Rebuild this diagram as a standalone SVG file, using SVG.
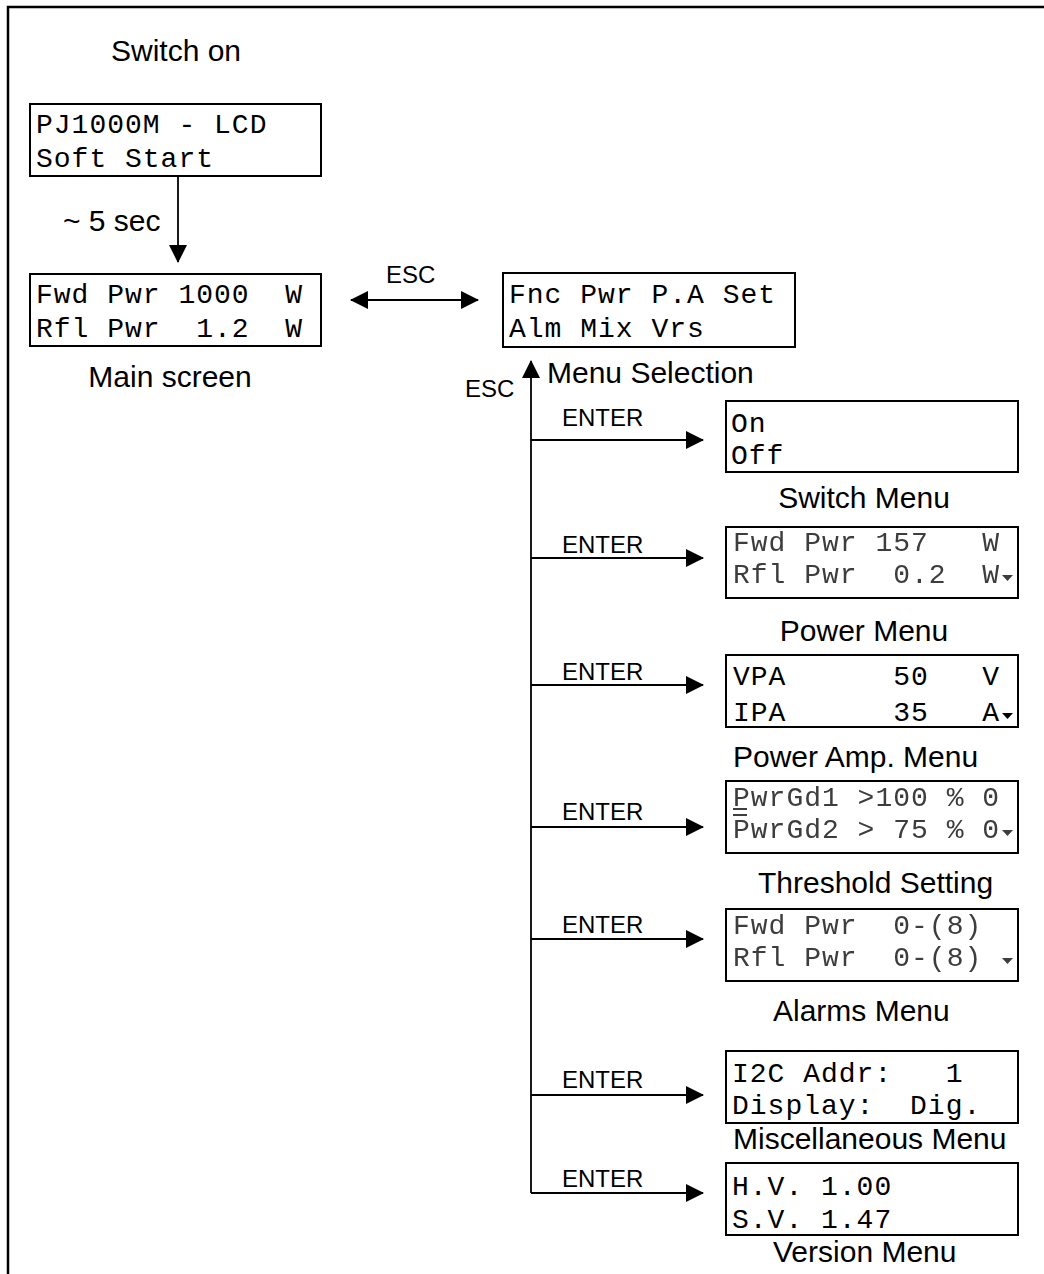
<svg xmlns="http://www.w3.org/2000/svg" width="1044" height="1274" viewBox="0 0 1044 1274">
  <style>
    .lbl { font-family: "Liberation Sans", Arial, sans-serif; font-size: 30px; fill: #000; }
    .key { font-family: "Liberation Sans", Arial, sans-serif; font-size: 24px; fill: #000; }
    .lcd { font-family: "Liberation Mono", "DejaVu Sans Mono", monospace; font-size: 28px; letter-spacing: 1px; fill: #000; white-space: pre; }
    .dim { fill: #3c3c3c; }
    .box { fill: #fff; stroke: #000; stroke-width: 2; }
    .conn { fill: none; stroke: #000; stroke-width: 1.8; }
    .frame { fill: none; stroke: #000; stroke-width: 2.5; }
  </style>
  <defs>
    <marker id="ah" viewBox="0 0 18 18" refX="17" refY="9" markerWidth="18" markerHeight="18" markerUnits="userSpaceOnUse" orient="auto-start-reverse">
      <path d="M0,0 L18,9 L0,18 z" fill="#000"/>
    </marker>
    <filter id="soft" x="-5%" y="-20%" width="110%" height="140%">
      <feGaussianBlur stdDeviation="0.6"/>
    </filter>
  </defs>

  <rect width="1044" height="1274" fill="#fff"/>
  <path class="frame" d="M8,1274 L8,7 L1044,7"/>

  <g id="connectors">
    <line class="conn" x1="178" y1="176" x2="178" y2="262" marker-end="url(#ah)"/>
    <line class="conn" x1="351" y1="300" x2="478" y2="300" marker-start="url(#ah)" marker-end="url(#ah)"/>
    <line class="conn" x1="531" y1="1193" x2="531" y2="361" marker-end="url(#ah)"/>
    <line class="conn" x1="531" y1="440" x2="703" y2="440" marker-end="url(#ah)"/>
    <line class="conn" x1="531" y1="558" x2="703" y2="558" marker-end="url(#ah)"/>
    <line class="conn" x1="531" y1="685" x2="703" y2="685" marker-end="url(#ah)"/>
    <line class="conn" x1="531" y1="827" x2="703" y2="827" marker-end="url(#ah)"/>
    <line class="conn" x1="531" y1="939" x2="703" y2="939" marker-end="url(#ah)"/>
    <line class="conn" x1="531" y1="1095" x2="703" y2="1095" marker-end="url(#ah)"/>
    <line class="conn" x1="531" y1="1193" x2="703" y2="1193" marker-end="url(#ah)"/>
    <text class="lbl" x="63" y="231">~ 5 sec</text>
    <text class="key" x="386" y="283">ESC</text>
    <text class="key" x="465" y="397">ESC</text>
    <text class="key" x="562" y="426">ENTER</text>
    <text class="key" x="562" y="553">ENTER</text>
    <text class="key" x="562" y="680">ENTER</text>
    <text class="key" x="562" y="820">ENTER</text>
    <text class="key" x="562" y="933">ENTER</text>
    <text class="key" x="562" y="1088">ENTER</text>
    <text class="key" x="562" y="1187">ENTER</text>
  </g>

  <g id="switch-on">
    <text class="lbl" x="176" y="61" text-anchor="middle">Switch on</text>
  </g>

  <g id="soft-start">
    <rect class="box" x="30" y="104" width="291" height="72"/>
    <text class="lcd" x="36" y="133">PJ1000M - LCD</text>
    <text class="lcd" x="36" y="167">Soft Start</text>
  </g>

  <g id="main-screen">
    <rect class="box" x="30" y="274" width="291" height="72"/>
    <text class="lcd" x="36" y="303">Fwd Pwr 1000  W</text>
    <text class="lcd" x="36" y="337">Rfl Pwr  1.2  W</text>
    <text class="lbl" x="170" y="387" text-anchor="middle">Main screen</text>
  </g>

  <g id="menu-selection">
    <rect class="box" x="503" y="273" width="292" height="74"/>
    <text class="lcd" x="509" y="303">Fnc Pwr P.A Set</text>
    <text class="lcd" x="509" y="337">Alm Mix Vrs</text>
    <text class="lbl" x="547" y="383">Menu Selection</text>
  </g>

  <g id="switch-menu">
    <rect class="box" x="726" y="401" width="292" height="71"/>
    <text class="lcd" x="731" y="432">On</text>
    <text class="lcd" x="731" y="464">Off</text>
    <text class="lbl" x="864" y="508" text-anchor="middle">Switch Menu</text>
  </g>

  <g id="power-menu">
    <rect class="box" x="726" y="527" width="292" height="71"/>
    <g filter="url(#soft)">
      <text class="lcd dim" x="733" y="551">Fwd Pwr 157   W</text>
      <text class="lcd dim" x="733" y="583">Rfl Pwr  0.2  W</text>
      <path d="M1002,575 L1013,575 L1007.5,581 z" fill="#3c3c3c"/>
    </g>
    <text class="lbl" x="864" y="641" text-anchor="middle">Power Menu</text>
  </g>

  <g id="power-amp-menu">
    <rect class="box" x="726" y="655" width="292" height="72"/>
    <text class="lcd" x="733" y="685">VPA      50   V</text>
    <text class="lcd" x="733" y="721">IPA      35   A</text>
    <path d="M1002,713 L1013,713 L1007.5,719 z" fill="#000"/>
    <text class="lbl" x="733" y="767">Power Amp. Menu</text>
  </g>

  <g id="threshold-setting">
    <rect class="box" x="726" y="781" width="292" height="72"/>
    <g filter="url(#soft)">
      <text class="lcd dim" x="733" y="806">PwrGd1 &gt;100 % 0</text>
      <text class="lcd dim" x="733" y="838">PwrGd2 &gt; 75 % 0</text>
      <rect x="733" y="808" width="14" height="2" fill="#3c3c3c"/>
      <rect x="733" y="814" width="14" height="2" fill="#3c3c3c"/>
      <path d="M1002,830 L1013,830 L1007.5,836 z" fill="#3c3c3c"/>
    </g>
    <text class="lbl" x="758" y="893">Threshold Setting</text>
  </g>

  <g id="alarms-menu">
    <rect class="box" x="726" y="909" width="292" height="72"/>
    <g filter="url(#soft)">
      <text class="lcd dim" x="733" y="934">Fwd Pwr  0-(8)</text>
      <text class="lcd dim" x="733" y="966">Rfl Pwr  0-(8)</text>
      <path d="M1002,958 L1013,958 L1007.5,964 z" fill="#3c3c3c"/>
    </g>
    <text class="lbl" x="773" y="1021">Alarms Menu</text>
  </g>

  <g id="misc-menu">
    <rect class="box" x="726" y="1051" width="292" height="72"/>
    <text class="lcd" x="732" y="1082">I2C Addr:   1</text>
    <text class="lcd" x="732" y="1114">Display:  Dig.</text>
    <text class="lbl" x="733" y="1149">Miscellaneous Menu</text>
  </g>

  <g id="version-menu">
    <rect class="box" x="726" y="1163" width="292" height="72"/>
    <text class="lcd" x="732" y="1195">H.V. 1.00</text>
    <text class="lcd" x="732" y="1228">S.V. 1.47</text>
    <text class="lbl" x="773" y="1262">Version Menu</text>
  </g>
</svg>
